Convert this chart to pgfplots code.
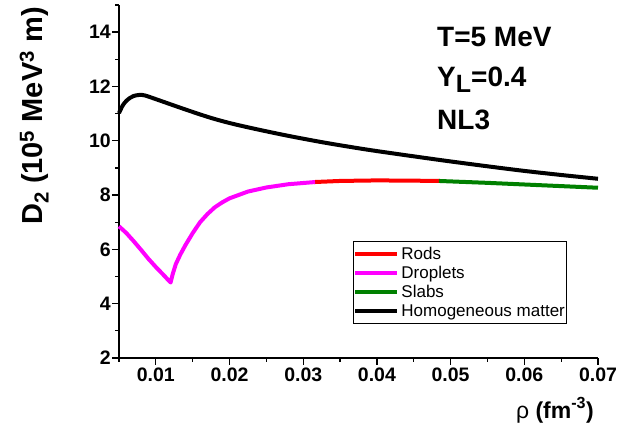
\documentclass[border=0pt]{standalone}
\usepackage{fontspec}
\setmainfont{Liberation Sans}
\usepackage{pgfplots}
\pgfplotsset{compat=1.18}
\definecolor{cRed}{RGB}{255,0,0}
\definecolor{cMag}{RGB}{255,0,255}
\definecolor{cGreen}{RGB}{0,128,0}
\begin{document}
\begin{tikzpicture}[x=1pt,y=1pt]
\path[use as bounding box] (0,0) rectangle (640,441);
\begin{axis}[
  at={(119pt,83pt)}, anchor=south west,
  scale only axis, width=479pt, height=353pt,
  xmin=0.005, xmax=0.07, ymin=2, ymax=15,
  axis x line*=bottom, axis y line*=left,
  axis line style={line width=1.3pt, black},
  xtick={0.01,0.02,0.03,0.04,0.05,0.06,0.07},
  xticklabels={0.01,0.02,0.03,0.04,0.05,0.06,0.07},
  scaled x ticks=false,
  minor xtick={0.005,0.015,0.025,0.035,0.045,0.055,0.065},
  ytick={2,4,6,8,10,12,14},
  minor ytick={3,5,7,9,11,13,15},
  tick align=outside,
  major tick length=7pt, minor tick length=4pt,
  every tick/.style={line width=1.3pt, black},
  tick label style={font=\fontsize{19.5}{22}\selectfont\bfseries},
  /pgf/number format/assume math mode=true,
  yticklabel style={inner xsep=1pt},
  xticklabel style={inner ysep=3pt},
  xlabel={{\mdseries ρ} (fm\textsuperscript{-3})},
  x label style={at={(axis description cs:0.91,-0.17)}, anchor=base, font=\fontsize{23}{26}\selectfont\bfseries},
  ylabel={D\textsubscript{2} (10\textsuperscript{5} MeV\textsuperscript{3} m)},
  y label style={at={(axis description cs:-0.1587,0.6856)}, anchor=base, font=\fontsize{29}{32}\selectfont\bfseries},
  legend style={at={(axis description cs:0.4885,0.331)}, anchor=north west,
    draw=black, line width=0.9pt, font=\fontsize{17}{18}\selectfont,
    inner xsep=0pt, inner ysep=3.5pt, row sep=1.3pt},
  legend cell align=left,
  legend image code/.code={\draw[#1, line width=4pt] (0pt,0pt) -- (42pt,0pt);},
  clip=false,
]
\addplot[cRed, line width=4pt] coordinates {
(0.0315,8.48) (0.035,8.52) (0.040,8.54) (0.045,8.53) (0.0485,8.52)
};
\addlegendentry{Rods}
\addplot[cMag, line width=4pt, line join=round] coordinates {
(0.005,6.85) (0.006,6.6) (0.007,6.3) (0.008,5.98) (0.009,5.65) (0.010,5.35)
(0.011,5.07) (0.012,4.78) (0.0123,5.1) (0.0127,5.45) (0.0133,5.8) (0.014,6.15)
(0.015,6.6) (0.016,7.0) (0.017,7.3) (0.018,7.55) (0.019,7.73) (0.020,7.88)
(0.0225,8.13) (0.025,8.28) (0.028,8.4) (0.0316,8.48)
};
\addlegendentry{Droplets}
\addplot[cGreen, line width=4pt] coordinates {
(0.0484,8.52) (0.055,8.45) (0.060,8.39) (0.065,8.33) (0.070,8.27)
};
\addlegendentry{Slabs}
\addplot[black, line width=4pt, smooth] coordinates {
(0.005,11.02) (0.0055,11.3) (0.006,11.47) (0.0065,11.58) (0.007,11.65)
(0.0078,11.69) (0.0085,11.67) (0.0095,11.58) (0.0115,11.39) (0.0135,11.2)
(0.016,10.97) (0.018,10.80) (0.0205,10.62) (0.0241,10.40) (0.028,10.18)
(0.0323,9.96) (0.036,9.79) (0.040,9.62) (0.0486,9.29) (0.055,9.06)
(0.060,8.89) (0.065,8.74) (0.070,8.6)
};
\addlegendentry{Homogeneous matter}
\end{axis}
\begin{scope}[font=\fontsize{28}{30}\selectfont\bfseries]
\node[anchor=base west, inner sep=0pt] at (437,394) {T=5 MeV};
\node[anchor=base west, inner sep=0pt] at (437,354) {Y\raisebox{-6pt}{\fontsize{25}{27}\selectfont L}=0.4};
\node[anchor=base west, inner sep=0pt] at (437,311) {NL3};
\end{scope}
\end{tikzpicture}
\end{document}
